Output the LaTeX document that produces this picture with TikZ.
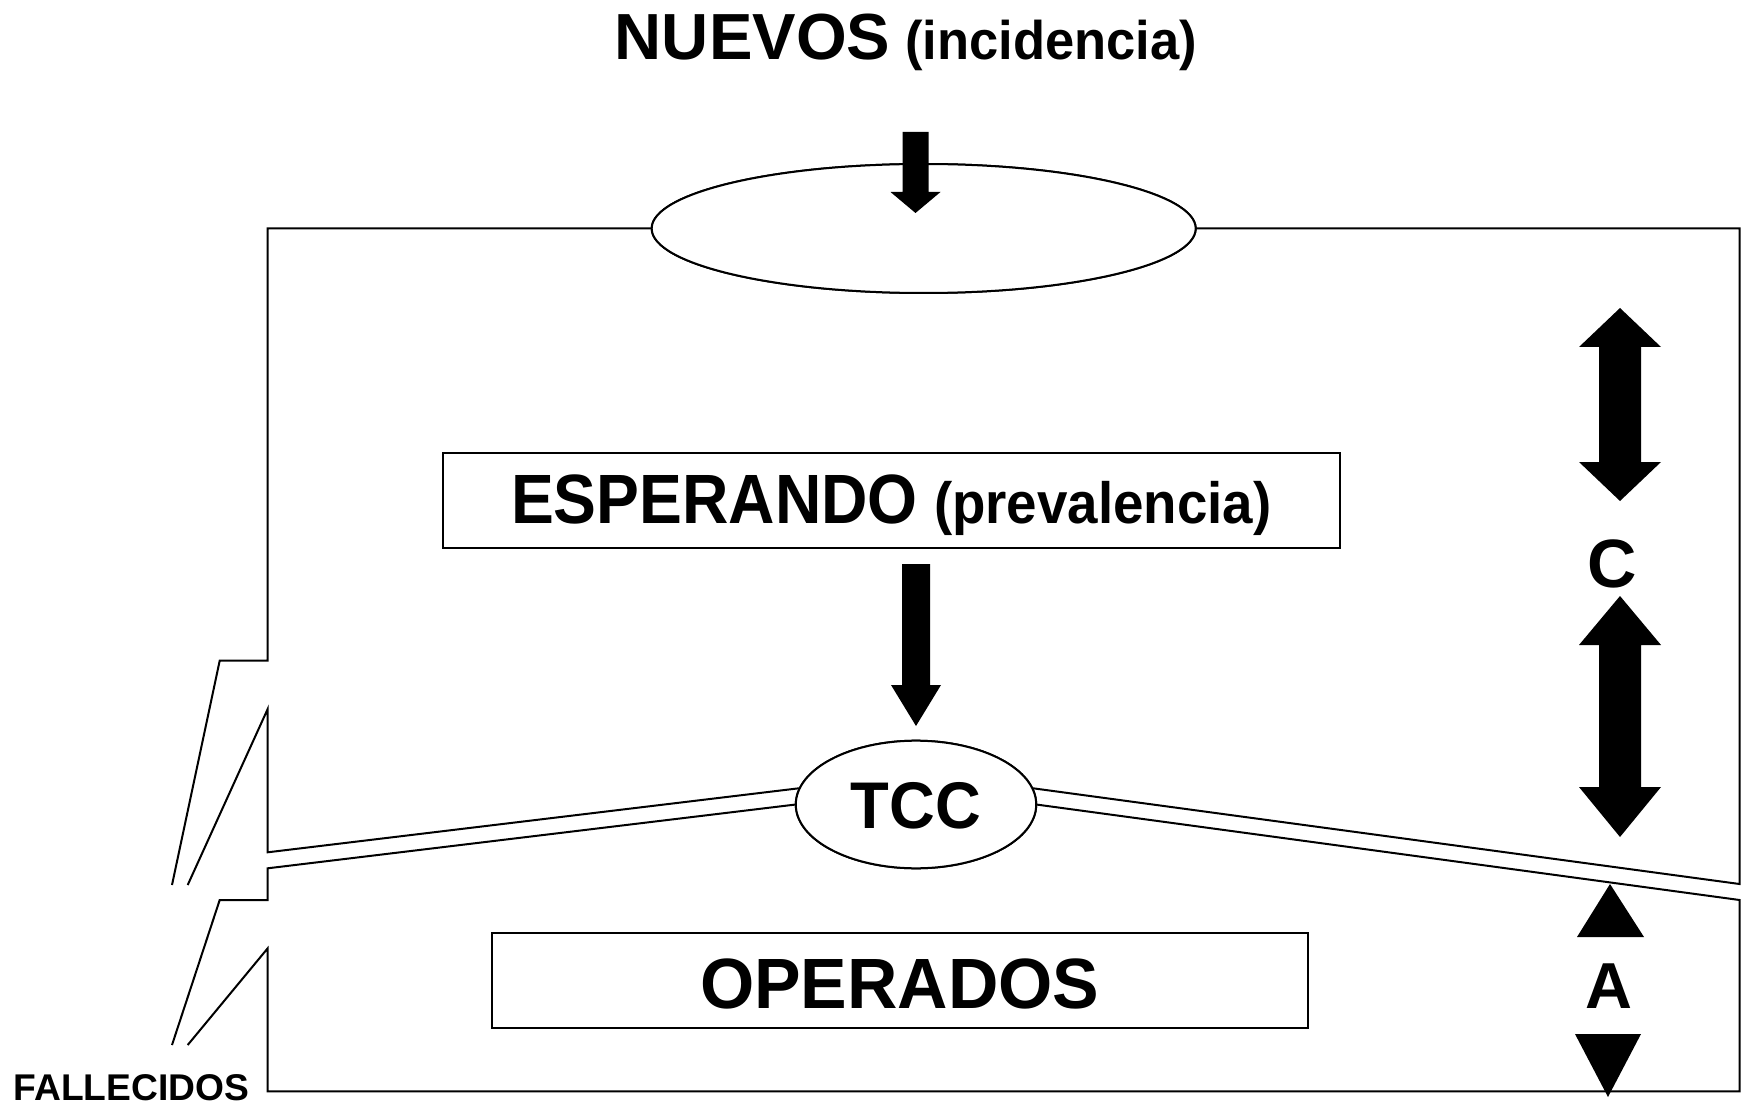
\documentclass[tikz,border=0pt]{standalone}
\usepackage{fontspec}
\setmainfont{Liberation Sans}
\usepackage{graphicx}
\usetikzlibrary{shapes.geometric,calc}
\newcommand\blockarrow[5]{\fill[black] let \p1=(#1),\p2=(#2) in
 (\x2-#3,\y1) -- (\x2+#3,\y1) -- (\x2+#3,\y2+#5) -- (\x2+#4,\y2+#5) -- (\x2,\y2)
 -- (\x2-#4,\y2+#5) -- (\x2-#3,\y2+#5) -- cycle;}
\newcommand\fs[1]{\fontsize{#1}{#1}\selectfont}
\begin{document}
\begin{tikzpicture}[x=0.5pt,y=-0.5pt,
  frame/.style={draw=black,line width=1pt,line join=miter},
  boxnode/.style={draw=black,line width=1pt,fill=white,rectangle,inner sep=0pt,outer sep=0pt,font=\bfseries},
  ellnode/.style={draw=black,line width=1pt,fill=white,ellipse,inner sep=0pt,outer sep=0pt,font=\bfseries},
  txt/.style={inner sep=0pt,outer sep=0pt,font=\bfseries},
  solidshape/.style={fill=black}]
\useasboundingbox (0,0) rectangle (1747,1107);
% title
\node[txt,anchor=base] (nuevos) at (906,60) {\fs{32.6pt}NUEVOS\fs{27.2pt}{} \scalebox{0.965}[1]{(incidencia)}};
% ellipses and boxes
\node[ellnode,minimum width=272pt,minimum height=64.5pt] (topE) at (923.7,228.5) {};
\node[ellnode,minimum width=120.2pt,minimum height=63.8pt,text height=23.8pt,text depth=0pt] (tcc) at (916,804.5) {\fs{33pt}\scalebox{0.96}[1]{TCC}\hspace{6pt}};
% frame lines
\coordinate (TL) at (267.7,228.5);
\coordinate (TR) at (1739.5,228.5);
\draw[frame] (topE.west) -- (TL) -- (267.7,660.7) -- (219.7,660.7) -- (172,885);
\draw[frame] (topE.east) -- (TR) -- (1739.5,884) -- (tcc.8);
\draw[frame] (187.7,885) -- (267.7,709) -- (267.7,852.3) -- (tcc.172);
\draw[frame] (tcc.west) -- (267.7,868.3) -- (267.7,900) -- (219.7,900) -- (172,1045);
\draw[frame] (187.7,1045) -- (267.7,948.3) -- (267.7,1091.3) -- (1739.5,1091.3) -- (1739.5,900) -- (tcc.east);
% redraw ellipses on top
\node[ellnode,minimum width=272pt,minimum height=64.5pt] at (topE.center) {};
\node[ellnode,minimum width=120.2pt,minimum height=63.8pt,text height=23.8pt,text depth=0pt] at (tcc.center) {\fs{33pt}\scalebox{0.96}[1]{TCC}\hspace{6pt}};
% boxes
\node[boxnode,minimum width=448.2pt,minimum height=47.8pt,text height=30pt,text depth=7.2pt] (esp) at (891.3,500.5)
  {\fs{34.9pt}\scalebox{0.92}[1]{ESPERANDO}\fs{29.1pt}{} \scalebox{0.94}[1]{(prevalencia)}};
\node[boxnode,minimum width=407.85pt,minimum height=47.8pt,text height=27.8pt,text depth=0pt] (oper) at (899.7,980.5)
  {\fs{35.6pt}\scalebox{0.98}[1]{OPERADOS}};
% arrows
\coordinate (a0) at (915.5,132);
\coordinate (a1) at (915.5,213);
\blockarrow{a0}{a1}{6.5pt}{12.5pt}{10.5pt}
\coordinate (m0) at ($(esp.south -| tcc.north)+(0,15.7)$);
\coordinate (m1) at ($(tcc.north)+(0,-14.7)$);
\blockarrow{m0}{m1}{7pt}{12.5pt}{20.5pt}
% right side double arrows
\fill[solidshape] (1620,308) -- (1661,347) -- (1641,347) -- (1641,462) -- (1661,462) -- (1620,501)
  -- (1579,462) -- (1599,462) -- (1599,347) -- (1579,347) -- cycle;
\fill[solidshape] (1620,596) -- (1661,645) -- (1641,645) -- (1641,787) -- (1661,787) -- (1620,837)
  -- (1579,787) -- (1599,787) -- (1599,645) -- (1579,645) -- cycle;
\fill[solidshape] (1610,884) -- (1644,937) -- (1577,937) -- cycle;
\fill[solidshape] (1575,1034) -- (1641,1034) -- (1608,1097) -- cycle;
\node[txt,anchor=base] (C) at (1612,587) {\fs{34.2pt}C};
\node[txt,anchor=base] (A) at (1609,1008) {\fs{32.5pt}A};
\node[txt,anchor=base] (fall) at (131.5,1100) {\fs{18.6pt}FALLECIDOS};
\end{tikzpicture}
\end{document}
